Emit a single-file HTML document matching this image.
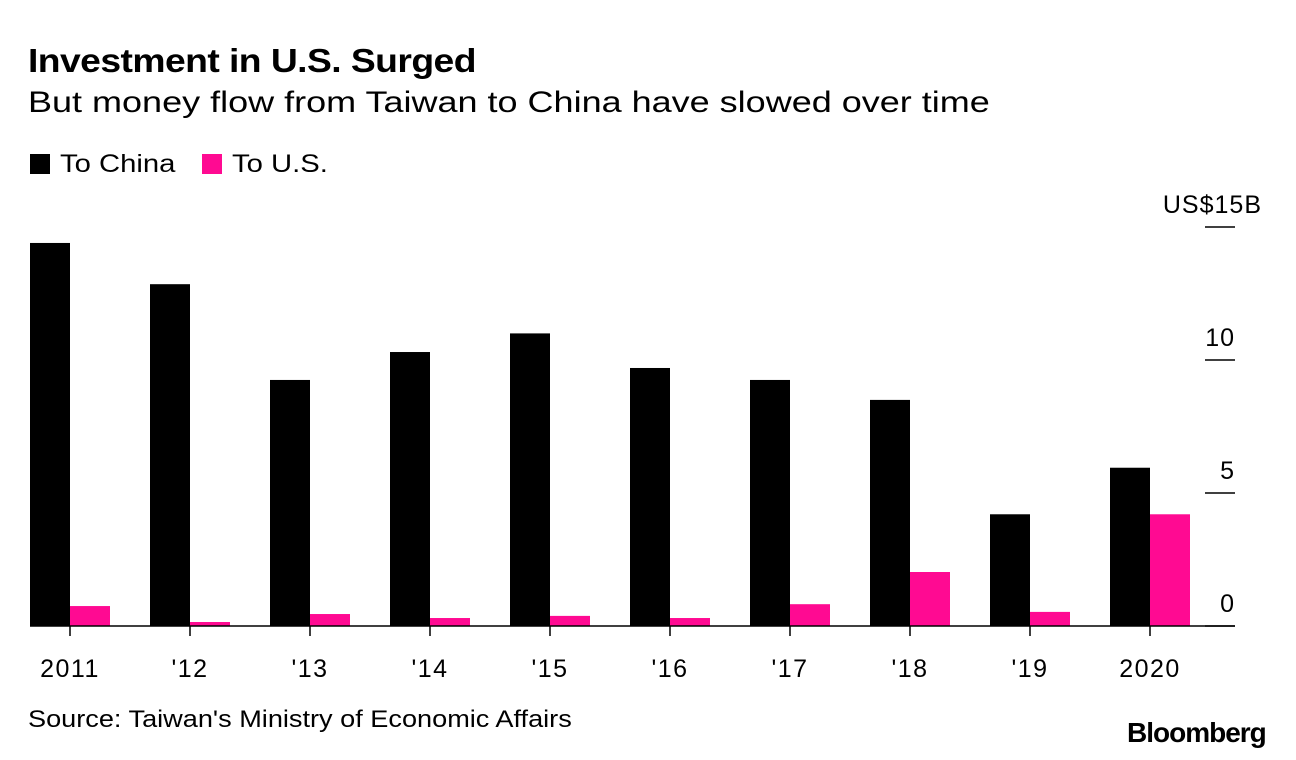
<!DOCTYPE html>
<html><head><meta charset="utf-8"><style>
body{margin:0;background:#fff;font-family:"Liberation Sans",Arial,sans-serif;}
#wrap{position:relative;width:1296px;height:760px;overflow:hidden;}
.t{position:absolute;white-space:nowrap;color:#000;transform-origin:0 0;}
</style></head><body>
<div id="wrap">
<div class="t" style="left:28px;top:42px;font-size:33px;font-weight:bold;letter-spacing:-0.5px;transform:scaleX(1.13)">Investment in U.S. Surged</div>
<div class="t" style="left:28px;top:86px;font-size:30px;transform:scaleX(1.2)">But money flow from Taiwan to China have slowed over time</div>
<div class="t" style="left:30px;top:150px;font-size:25px"><span style="display:inline-block;width:20px;height:20px;background:#000;vertical-align:-2px;margin-right:10px"></span><span style="display:inline-block;transform:scaleX(1.17);transform-origin:0 0">To China</span></div>
<div class="t" style="left:202px;top:150px;font-size:25px"><span style="display:inline-block;width:20px;height:20px;background:#ff0a92;vertical-align:-2px;margin-right:10px"></span><span style="display:inline-block;transform:scaleX(1.17);transform-origin:0 0">To U.S.</span></div>
<svg id="chart" width="1296" height="760" style="position:absolute;left:0;top:0"></svg>
<div class="t" style="left:28px;top:706px;font-size:24px;transform:scaleX(1.13)">Source: Taiwan's Ministry of Economic Affairs</div>
<div class="t" style="left:1127px;top:717px;font-size:28px;font-weight:bold;letter-spacing:-1px">Bloomberg</div>
</div>
<script>
const categories=["2011","'12","'13","'14","'15","'16","'17","'18","'19","2020"];
const chinaValues=[14.4,12.85,9.25,10.3,11.0,9.7,9.25,8.5,4.2,5.95];
const usValues=[0.75,0.15,0.45,0.3,0.38,0.3,0.82,2.03,0.53,4.2];
const yTicks=[0,5,10,15];
const yTickLabels=["0","5","10","US$15B"];
const svg=document.getElementById('chart');
const NS='http://www.w3.org/2000/svg';
const y=v=>626-v*26.6;
const xc=i=>70+i*120;
function mk(tag,attrs){const e=document.createElementNS(NS,tag);for(const k in attrs)e.setAttribute(k,attrs[k]);svg.appendChild(e);return e;}
yTicks.forEach((v,i)=>{
 const l=mk('line',{x1:1205,x2:1235,y1:y(v),y2:y(v),stroke:'#000','stroke-width':1.5});
 
 
 const t=mk('text',{x:v===15?1262:1235,y:y(v)-14,'text-anchor':'end','font-size':25,'letter-spacing':1,'font-family':'Liberation Sans, Arial, sans-serif'});
 t.textContent=yTickLabels[i];
 
 
});
categories.forEach((c,i)=>{
 const b=mk('rect',{x:xc(i)-40,y:y(chinaValues[i]),width:40,height:626-y(chinaValues[i]),fill:'#000'});
 
 
 const u=mk('rect',{x:xc(i),y:y(usValues[i]),width:40,height:626-y(usValues[i]),fill:'#ff0a92'});
 
 
 const tk=mk('line',{x1:xc(i),x2:xc(i),y1:626,y2:636,stroke:'#000','stroke-width':1.5});
 
 
 const t=mk('text',{x:xc(i),y:677,'text-anchor':'middle','font-size':25,'letter-spacing':1.5,'font-family':'Liberation Sans, Arial, sans-serif'});
 t.textContent=c;
 
 
});
const base=mk('line',{x1:30,x2:1235,y1:626,y2:626,stroke:'#000','stroke-width':1.5});


</script>
</body></html>
